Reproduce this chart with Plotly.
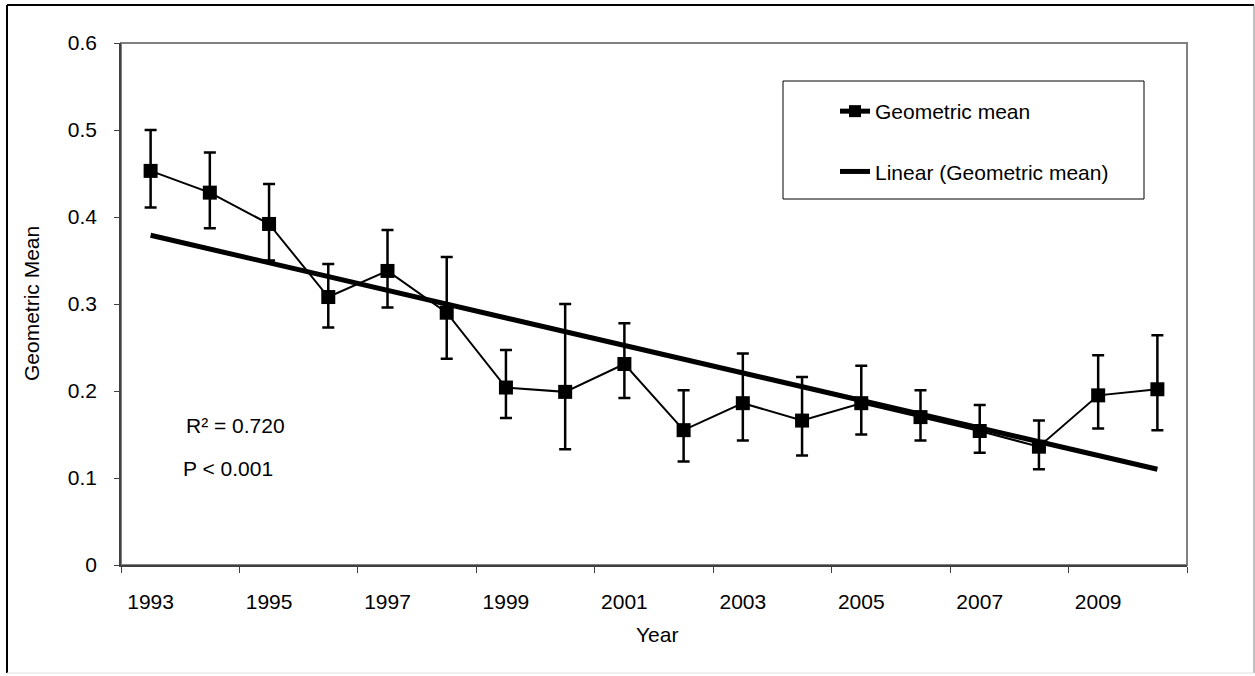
import plotly.graph_objects as go

years = list(range(1993, 2011))
geo_mean = [0.453, 0.428, 0.392, 0.308, 0.338, 0.290, 0.204, 0.199, 0.231,
            0.155, 0.186, 0.166, 0.186, 0.170, 0.154, 0.136, 0.195, 0.202]
ci_upper = [0.500, 0.474, 0.438, 0.346, 0.385, 0.354, 0.247, 0.300, 0.278,
            0.201, 0.243, 0.216, 0.229, 0.201, 0.184, 0.166, 0.241, 0.264]
ci_lower = [0.411, 0.387, 0.350, 0.273, 0.296, 0.237, 0.169, 0.133, 0.192,
            0.119, 0.143, 0.126, 0.150, 0.143, 0.129, 0.110, 0.157, 0.155]
trend_years = [1993, 2010]
trend_values = [0.379, 0.110]
tick_years = [1993, 1995, 1997, 1999, 2001, 2003, 2005, 2007, 2009]
y_ticks = [0, 0.1, 0.2, 0.3, 0.4, 0.5, 0.6]
y_tick_text = ["0", "0.1", "0.2", "0.3", "0.4", "0.5", "0.6"]

err_plus = [u - m for u, m in zip(ci_upper, geo_mean)]
err_minus = [m - l for m, l in zip(geo_mean, ci_lower)]

FONT = "Liberation Sans, Arial, sans-serif"
FS = 21

fig = go.Figure()
fig.add_trace(go.Scatter(
    x=years, y=geo_mean, mode="lines+markers", name="Geometric mean",
    legendgroup="a",
    line=dict(color="black", width=2),
    marker=dict(symbol="square", size=14, color="black"),
    error_y=dict(type="data", symmetric=False, array=err_plus, arrayminus=err_minus,
                 color="black", thickness=2.5, width=6),
))
fig.add_trace(go.Scatter(
    x=trend_years, y=trend_values, mode="lines", name="Linear (Geometric mean)",
    legendgroup="b",
    line=dict(color="black", width=5),
))

W, H = 1255, 676
L, R, T, B = 121, 1187, 43, 565
pw, ph = R - L, B - T

def px(x):
    return (x - L) / pw

def py(y):
    return (B - y) / ph

shapes = [
    dict(type="rect", xref="paper", yref="paper", x0=0, x1=1, y0=0, y1=1,
         line=dict(color="#808080", width=2), layer="below"),
    dict(type="line", xref="paper", yref="paper", x0=px(7), x1=px(7), y0=py(5), y1=py(673),
         line=dict(color="black", width=2)),
    dict(type="line", xref="paper", yref="paper", x0=px(7), x1=px(1254), y0=py(5), y1=py(5),
         line=dict(color="black", width=2)),
    dict(type="line", xref="paper", yref="paper", x0=px(1254), x1=px(1254), y0=py(5), y1=py(673),
         line=dict(color="#808080", width=1)),
    dict(type="line", xref="paper", yref="paper", x0=px(7), x1=px(1254), y0=py(673), y1=py(673),
         line=dict(color="#e0e0e0", width=1)),
    dict(type="rect", xref="paper", yref="paper", x0=px(783), x1=px(1144), y0=py(81), y1=py(199),
         line=dict(color="black", width=1), fillcolor="white"),
]

annotations = [
    dict(text="R² = 0.720", xref="paper", yref="paper", x=px(184), y=py(425),
         xanchor="left", yanchor="middle", showarrow=False, font=dict(size=FS, family=FONT, color="black")),
    dict(text="P < 0.001", xref="paper", yref="paper", x=px(181), y=py(468),
         xanchor="left", yanchor="middle", showarrow=False, font=dict(size=FS, family=FONT, color="black")),
    dict(text="Year", xref="paper", yref="paper", x=px(657), y=py(634),
         xanchor="center", yanchor="middle", showarrow=False, font=dict(size=FS, family=FONT, color="black")),
    dict(text="Geometric Mean", xref="paper", yref="paper", x=px(31), y=py(304), textangle=-90,
         xanchor="center", yanchor="middle", showarrow=False, font=dict(size=FS, family=FONT, color="black")),
]

fig.update_layout(
    width=W, height=H,
    margin=dict(l=L, r=W - R, t=T, b=H - B, pad=0),
    paper_bgcolor="white", plot_bgcolor="white",
    font=dict(family=FONT, size=FS, color="black"),
    shapes=shapes, annotations=annotations,
    showlegend=True,
    legend=dict(x=px(835), y=py(91), xanchor="left", yanchor="top",
                bgcolor="rgba(0,0,0,0)", borderwidth=0, itemsizing="constant",
                traceorder="grouped", tracegroupgap=30,
                font=dict(size=FS, family=FONT, color="black")),
    xaxis=dict(range=[1992.5, 2010.5], tickmode="array", tickvals=tick_years,
               ticktext=[str(y) for y in tick_years], ticks="", showgrid=False, zeroline=False,
               showline=True, linecolor="#404040", linewidth=1.5,
               ticklabelstandoff=17,
               minor=dict(tickmode="array", tickvals=[1992.5 + 2 * i for i in range(10)],
                          ticks="outside", ticklen=6, tickwidth=1, tickcolor="#404040", showgrid=False)),
    yaxis=dict(range=[0, 0.6], tickmode="array", tickvals=y_ticks, ticktext=y_tick_text,
               ticks="outside", ticklen=5, tickwidth=1, tickcolor="#404040",
               showgrid=False, zeroline=False, showline=True, linecolor="#404040", linewidth=1.5,
               ticklabelstandoff=13),
)

fig.write_html("out.html", post_script="document.body.style.margin='0px';",
               config={"displayModeBar": False})
